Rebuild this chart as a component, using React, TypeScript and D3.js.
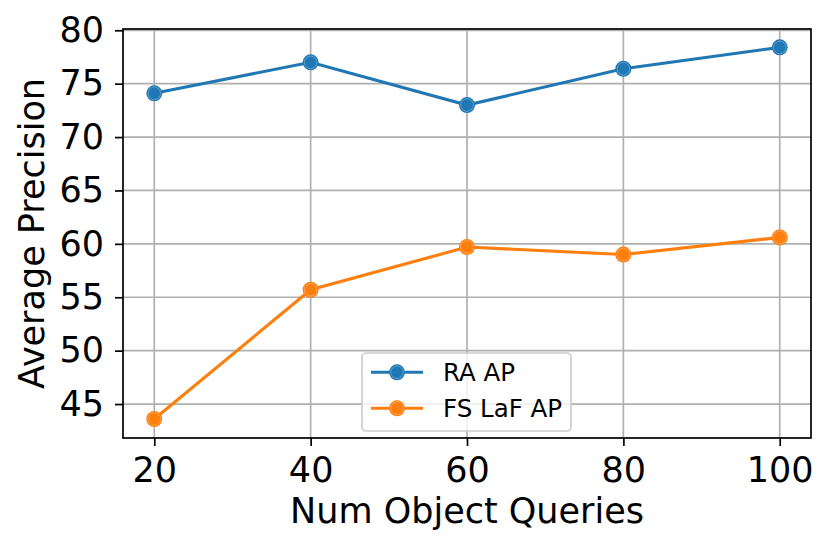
import { useEffect, useRef } from "react";
import * as d3 from "d3";

const queries = [20, 40, 60, 80, 100];
const raAP = [74.1, 77.0, 73.0, 76.4, 78.4];
const fsLafAP = [43.6, 55.7, 59.7, 59.0, 60.6];
const xTicks = [20, 40, 60, 80, 100];
const yTicks = [45, 50, 55, 60, 65, 70, 75, 80];

const series = [
	{ name: "RA AP", values: raAP, color: "#1f77b4" },
	{ name: "FS LaF AP", values: fsLafAP, color: "#ff7f0e" },
];

const width = 831;
const height = 550;
const margin = { top: 29, right: 20, bottom: 112, left: 123 };
const font = "DejaVu Sans, sans-serif";
const bigFont = 35;

function App() {
	const ref = useRef<SVGSVGElement>(null);

	useEffect(() => {
		const svg = d3.select(ref.current);
		svg.selectAll("*").remove();

		const x = d3.scaleLinear().domain([16, 104]).range([margin.left, width - margin.right]);
		const y = d3.scaleLinear().domain([41.82, 80.12]).range([height - margin.bottom, margin.top]);

		// grid
		const grid = svg.append("g").attr("stroke", "#b0b0b0").attr("stroke-width", 1.7);
		xTicks.forEach((t) => {
			grid.append("line").attr("x1", x(t)).attr("x2", x(t)).attr("y1", y.range()[0]).attr("y2", y.range()[1]);
		});
		yTicks.forEach((t) => {
			grid.append("line").attr("y1", y(t)).attr("y2", y(t)).attr("x1", x.range()[0]).attr("x2", x.range()[1]);
		});

		// axes
		const xAxis = svg
			.append("g")
			.attr("transform", `translate(0, ${height - margin.bottom})`)
			.call(d3.axisBottom(x).tickValues(xTicks).tickSize(8).tickPadding(11).tickSizeOuter(0));
		const yAxis = svg
			.append("g")
			.attr("transform", `translate(${margin.left}, 0)`)
			.call(d3.axisLeft(y).tickValues(yTicks).tickSize(8).tickPadding(11).tickSizeOuter(0));
		[xAxis, yAxis].forEach((a) => {
			a.select(".domain").remove();
			a.selectAll("line").attr("stroke", "#000").attr("stroke-width", 1.7);
			a.selectAll("text").attr("font-family", font).attr("font-size", bigFont).attr("fill", "#000");
		});

		// lines and markers
		const line = d3
			.line<number>()
			.x((_, i) => x(queries[i]))
			.y((d) => y(d));
		series.forEach((s) => {
			svg.append("path")
				.attr("d", line(s.values))
				.attr("fill", "none")
				.attr("stroke", s.color)
				.attr("stroke-width", 3.1);
			const g = svg.append("g");
			g.selectAll("circle.m")
				.data(s.values)
				.join("circle")
				.attr("cx", (_, i) => x(queries[i]))
				.attr("cy", (d) => y(d))
				.attr("r", 8)
				.attr("fill", s.color);
			g.selectAll("circle.r")
				.data(s.values)
				.join("circle")
				.attr("cx", (_, i) => x(queries[i]))
				.attr("cy", (d) => y(d))
				.attr("r", 6.3)
				.attr("fill", "none")
				.attr("stroke", "#fff")
				.attr("stroke-opacity", 0.35)
				.attr("stroke-width", 0.8);
		});

		// frame
		svg.append("rect")
			.attr("x", margin.left)
			.attr("y", margin.top)
			.attr("width", width - margin.left - margin.right)
			.attr("height", height - margin.top - margin.bottom)
			.attr("fill", "none")
			.attr("stroke", "#000")
			.attr("stroke-width", 1.7);

		// axis labels
		svg.append("text")
			.attr("x", (margin.left + width - margin.right) / 2)
			.attr("y", 523)
			.attr("text-anchor", "middle")
			.attr("font-family", font)
			.attr("font-size", bigFont)
			.text("Num Object Queries");
		svg.append("text")
			.attr("transform", `translate(44, ${(margin.top + height - margin.bottom) / 2}) rotate(-90)`)
			.attr("text-anchor", "middle")
			.attr("font-family", font)
			.attr("font-size", bigFont)
			.text("Average Precision");

		// legend
		const legend = svg.append("g");
		legend
			.append("rect")
			.attr("x", 362)
			.attr("y", 353)
			.attr("width", 209)
			.attr("height", 78)
			.attr("rx", 4)
			.attr("fill", "#fff")
			.attr("fill-opacity", 0.8)
			.attr("stroke", "#cccccc")
			.attr("stroke-width", 1.7);
		const rows = legend
			.selectAll("g.row")
			.data(series)
			.join("g")
			.attr("transform", (_, i) => `translate(0, ${372.3 + i * 36})`);
		rows.append("line")
			.attr("x1", 371)
			.attr("x2", 423)
			.attr("stroke", (d) => d.color)
			.attr("stroke-width", 3.1);
		rows.append("circle").attr("cx", 397).attr("r", 8).attr("fill", (d) => d.color);
		rows.append("circle")
			.attr("cx", 397)
			.attr("r", 6.3)
			.attr("fill", "none")
			.attr("stroke", "#fff")
			.attr("stroke-opacity", 0.35)
			.attr("stroke-width", 0.8);
		rows.append("text")
			.attr("x", 443)
			.attr("y", 8.5)
			.attr("font-family", font)
			.attr("font-size", 24.5)
			.text((d) => d.name);
	}, []);

	return (
		<svg
			ref={ref}
			width={width}
			height={height}
			style={{ position: "absolute", left: 0, top: 0, background: "#fff" }}
		/>
	);
}

export default App;
